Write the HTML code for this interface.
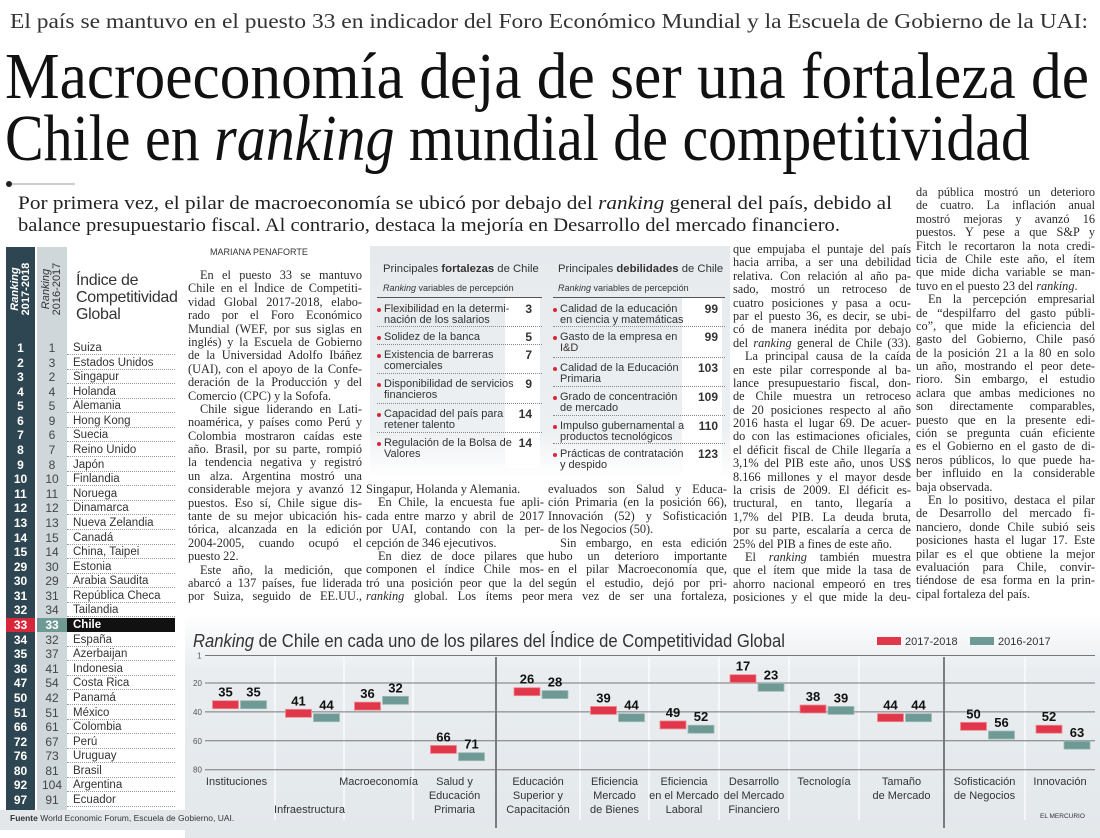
<!DOCTYPE html>
<html><head><meta charset="utf-8">
<style>
*{margin:0;padding:0;box-sizing:border-box}
body{width:1100px;height:838px;background:#fff;position:relative;overflow:hidden;font-family:"Liberation Serif",serif;color:#222}
.abs{position:absolute}
.col{position:absolute;font-family:"Liberation Serif",serif;font-size:12.3px;color:#2a2a2a}
.col div{height:13.4px;line-height:13.4px;white-space:nowrap;text-align:justify;text-align-last:justify;overflow:hidden}
.col div.e{text-align-last:left}
.col div.i{padding-left:12px}
.sans{font-family:"Liberation Sans",sans-serif}
.tb{position:absolute;font-family:"Liberation Sans",sans-serif;font-size:11px;color:#333;line-height:11px;white-space:nowrap}
</style></head><body>

<svg class="abs" style="left:0;top:0" width="1100" height="240">
<text x="10" y="28" font-family="Liberation Serif" font-size="21" fill="#333" textLength="1078" lengthAdjust="spacingAndGlyphs">El país se mantuvo en el puesto 33 en indicador del Foro Económico Mundial y la Escuela de Gobierno de la UAI:</text>
<text x="5" y="98" font-family="Liberation Serif" font-size="66" fill="#111" textLength="1084" lengthAdjust="spacingAndGlyphs">Macroeconomía deja de ser una fortaleza de</text>
<text x="5" y="160" font-family="Liberation Serif" font-size="66" fill="#111" textLength="1025" lengthAdjust="spacingAndGlyphs">Chile en <tspan font-style="italic">ranking</tspan> mundial de competitividad</text>
<circle cx="9" cy="184" r="3" fill="#222"/>
<line x1="12" y1="184" x2="75" y2="184" stroke="#999" stroke-width="1"/>
<text x="18" y="209" font-family="Liberation Serif" font-size="18.5" fill="#222" textLength="874" lengthAdjust="spacingAndGlyphs">Por primera vez, el pilar de macroeconomía se ubicó por debajo del <tspan font-style="italic">ranking</tspan> general del país, debido al</text>
<text x="18" y="231" font-family="Liberation Serif" font-size="18.5" fill="#222" textLength="822" lengthAdjust="spacingAndGlyphs">balance presupuestario fiscal. Al contrario, destaca la mejoría en Desarrollo del mercado financiero.</text>
</svg>

<div class="abs" style="left:185px;top:615px;width:915px;height:223px;background:linear-gradient(#fff,#e9edf0 25%,#e3e8eb)"></div>
<div class="abs" style="left:0;top:810px;width:190px;height:20px;background:#e3e7ea"></div>

<div id="rt" class="abs" style="left:0;top:0;width:185px;height:838px"></div>

<div class="abs sans" style="left:210px;top:247px;font-size:9px;color:#333">MARIANA PENAFORTE</div>

<div class="col" style="left:188px;top:269px;width:174px">
<div class="i">En el puesto 33 se mantuvo</div>
<div>Chile en el Índice de Competiti-</div>
<div>vidad Global 2017-2018, elabo-</div>
<div>rado por el Foro Económico</div>
<div>Mundial (WEF, por sus siglas en</div>
<div>inglés) y la Escuela de Gobierno</div>
<div>de la Universidad Adolfo Ibáñez</div>
<div>(UAI), con el apoyo de la Confe-</div>
<div>deración de la Producción y del</div>
<div class="e">Comercio (CPC) y la Sofofa.</div>
<div class="i">Chile sigue liderando en Lati-</div>
<div>noamérica, y países como Perú y</div>
<div>Colombia mostraron caídas este</div>
<div>año. Brasil, por su parte, rompió</div>
<div>la tendencia negativa y registró</div>
<div>un alza. Argentina mostró una</div>
<div>considerable mejora y avanzó 12</div>
<div>puestos. Eso sí, Chile sigue dis-</div>
<div>tante de su mejor ubicación his-</div>
<div>tórica, alcanzada en la edición</div>
<div>2004-2005, cuando ocupó el</div>
<div class="e">puesto 22.</div>
<div class="i">Este año, la medición, que</div>
<div>abarcó a 137 países, fue liderada</div>
<div>por Suiza, seguido de EE.UU.,</div>
</div>

<div class="col" style="left:366px;top:483px;width:178px">
<div class="e">Singapur, Holanda y Alemania.</div>
<div class="i">En Chile, la encuesta fue apli-</div>
<div>cada entre marzo y abril de 2017</div>
<div>por UAI, contando con la per-</div>
<div class="e">cepción de 346 ejecutivos.</div>
<div class="i">En diez de doce pilares que</div>
<div>componen el índice Chile mos-</div>
<div>tró una posición peor que la del</div>
<div><i>ranking</i> global. Los ítems peor</div>
</div>

<div class="col" style="left:548px;top:483px;width:179px">
<div>evaluados son Salud y Educa-</div>
<div>ción Primaria (en la posición 66),</div>
<div>Innovación (52) y Sofisticación</div>
<div class="e">de los Negocios (50).</div>
<div class="i">Sin embargo, en esta edición</div>
<div>hubo un deterioro importante</div>
<div>en el pilar Macroeconomía que,</div>
<div>según el estudio, dejó por pri-</div>
<div>mera vez de ser una fortaleza,</div>
</div>

<div class="col" style="left:733px;top:243px;width:178px">
<div>que empujaba el puntaje del país</div>
<div>hacia arriba, a ser una debilidad</div>
<div>relativa. Con relación al año pa-</div>
<div>sado, mostró un retroceso de</div>
<div>cuatro posiciones y pasa a ocu-</div>
<div>par el puesto 36, es decir, se ubi-</div>
<div>có de manera inédita por debajo</div>
<div>del <i>ranking</i> general de Chile (33).</div>
<div class="i">La principal causa de la caída</div>
<div>en este pilar corresponde al ba-</div>
<div>lance presupuestario fiscal, don-</div>
<div>de Chile muestra un retroceso</div>
<div>de 20 posiciones respecto al año</div>
<div>2016 hasta el lugar 69. De acuer-</div>
<div>do con las estimaciones oficiales,</div>
<div>el déficit fiscal de Chile llegaría a</div>
<div>3,1% del PIB este año, unos US$</div>
<div>8.166 millones y el mayor desde</div>
<div>la crisis de 2009. El déficit es-</div>
<div>tructural, en tanto, llegaría a</div>
<div>1,7% del PIB. La deuda bruta,</div>
<div>por su parte, escalaría a cerca de</div>
<div class="e">25% del PIB a fines de este año.</div>
<div class="i">El <i>ranking</i> también muestra</div>
<div>que el ítem que mide la tasa de</div>
<div>ahorro nacional empeoró en tres</div>
<div>posiciones y el que mide la deu-</div>
</div>

<div class="col" style="left:916px;top:186px;width:179px">
<div>da pública mostró un deterioro</div>
<div>de cuatro. La inflación anual</div>
<div>mostró mejoras y avanzó 16</div>
<div>puestos. Y pese a que S&amp;P y</div>
<div>Fitch le recortaron la nota credi-</div>
<div>ticia de Chile este año, el ítem</div>
<div>que mide dicha variable se man-</div>
<div class="e">tuvo en el puesto 23 del <i>ranking</i>.</div>
<div class="i">En la percepción empresarial</div>
<div>de “despilfarro del gasto públi-</div>
<div>co”, que mide la eficiencia del</div>
<div>gasto del Gobierno, Chile pasó</div>
<div>de la posición 21 a la 80 en solo</div>
<div>un año, mostrando el peor dete-</div>
<div>rioro. Sin embargo, el estudio</div>
<div>aclara que ambas mediciones no</div>
<div>son directamente comparables,</div>
<div>puesto que en la presente edi-</div>
<div>ción se pregunta cuán eficiente</div>
<div>es el Gobierno en el gasto de di-</div>
<div>neros públicos, lo que puede ha-</div>
<div>ber influido en la considerable</div>
<div class="e">baja observada.</div>
<div class="i">En lo positivo, destaca el pilar</div>
<div>de Desarrollo del mercado fi-</div>
<div>nanciero, donde Chile subió seis</div>
<div>posiciones hasta el lugar 17. Este</div>
<div>pilar es el que obtiene la mejor</div>
<div>evaluación para Chile, convir-</div>
<div>tiéndose de esa forma en la prin-</div>
<div class="e">cipal fortaleza del país.</div>
</div>

<div class="abs" style="left:370px;top:246px;width:360px;height:232px;background:linear-gradient(#e6eaed,#edf0f2 80%,#fff)"></div>
<div id="sw" class="abs" style="left:0;top:0;width:1100px"></div>

<svg id="chart" class="abs" style="left:0;top:0" width="1100" height="838"></svg>

<div class="abs sans" style="left:10px;top:813px;font-size:8.5px;color:#333;white-space:nowrap"><b>Fuente</b> World Economic Forum, Escuela de Gobierno, UAI.</div>
<div class="abs sans" style="left:1040px;top:813px;font-size:6.5px;color:#333">EL MERCURIO</div>

<script>
const rank2017=[1,2,3,4,5,6,7,8,9,10,11,12,13,14,15,29,30,31,32,33,34,35,36,47,50,51,66,72,76,80,92,97];
const rank2016=[1,3,2,4,5,9,6,7,8,10,11,12,13,15,14,30,29,31,34,33,32,37,41,54,42,51,61,67,73,81,104,91];
const countries=["Suiza","Estados Unidos","Singapur","Holanda","Alemania","Hong Kong","Suecia","Reino Unido","Japón","Finlandia","Noruega","Dinamarca","Nueva Zelandia","Canadá","China, Taipei","Estonia","Arabia Saudita","República Checa","Tailandia","Chile","España","Azerbaijan","Indonesia","Costa Rica","Panamá","México","Colombia","Perú","Uruguay","Brasil","Argentina","Ecuador"];
(function(){
  const rt=document.getElementById('rt');
  let h='';
  h+='<div style="position:absolute;left:6px;top:247px;width:29px;height:563px;background:#2e4651"></div>';
  h+='<div style="position:absolute;left:37px;top:247px;width:30px;height:563px;background:#cfd7db"></div>';
  h+='<div style="position:absolute;left:-23px;top:278px;width:88px;transform:rotate(-90deg);font:bold 11px/11px \'Liberation Sans\',sans-serif;color:#fff;text-align:center"><i>Ranking</i><br>2017-2018</div>';
  h+='<div style="position:absolute;left:8px;top:278px;width:88px;transform:rotate(-90deg);font:11px/11px \'Liberation Sans\',sans-serif;color:#333;text-align:center"><i>Ranking</i><br>2016-2017</div>';
  h+='<div style="position:absolute;left:76px;top:272px;font:16px/17px \'Liberation Sans\',sans-serif;color:#333;letter-spacing:-0.3px;white-space:nowrap">Índice de<br>Competitividad<br>Global</div>';
  rank2017.forEach((r,i)=>{
    const y=341+i*14.58; const chile=countries[i]==='Chile';
    h+='<div style="position:absolute;left:0;top:'+y+'px;width:180px;height:14.58px">'+
      '<div style="position:absolute;left:6px;width:29px;height:14px;'+(chile?'background:#d8273a;':'')+'text-align:center;font:bold 12px/14px \'Liberation Sans\',sans-serif;color:#fff">'+r+'</div>'+
      '<div style="position:absolute;left:37px;width:30px;height:14px;'+(chile?'background:#6e9995;color:#fff;font-weight:bold;':'color:#444;')+'text-align:center;font-size:12px;line-height:14px;font-family:\'Liberation Sans\',sans-serif">'+rank2016[i]+'</div>'+
      '<div style="position:absolute;left:67px;width:108px;height:14px;'+(chile?'background:#111;color:#fff;font-weight:bold;':'color:#333;border-bottom:1px dotted #999;')+'padding-left:6px;font-size:11.5px;line-height:14px;font-family:\'Liberation Sans\',sans-serif;white-space:nowrap">'+countries[i]+'</div></div>';
  });
  rt.innerHTML=h;
})();

const strengths=[["Flexibilidad en la determi-","nación de los salarios"],["Solidez de la banca"],["Existencia de barreras","comerciales"],["Disponibilidad de servicios","financieros"],["Capacidad del país para","retener talento"],["Regulación de la Bolsa de","Valores"]];
const strengthVals=[3,5,7,9,14,14];
const weaknesses=[["Calidad de la educación","en ciencia y matemáticas"],["Gasto de la empresa en","I&D"],["Calidad de la Educación","Primaria"],["Grado de concentración","de mercado"],["Impulso gubernamental a","productos tecnológicos"],["Prácticas de contratación","y despido"]];
const weaknessVals=[99,99,103,109,110,123];
(function(){
  const sw=document.getElementById('sw');
  let h='';
  h+='<div class="tb" style="left:383px;top:263px;font-size:11.3px;line-height:12px">Principales <b>fortalezas</b> de Chile</div>';
  h+='<div class="tb" style="left:558px;top:263px;font-size:11.3px;line-height:12px">Principales <b>debilidades</b> de Chile</div>';
  h+='<div class="tb" style="left:383px;top:283px;font-size:9px"><i>Ranking</i> variables de percepción</div>';
  h+='<div class="tb" style="left:558px;top:283px;font-size:9px"><i>Ranking</i> variables de percepción</div>';
  h+='<div style="position:absolute;left:377px;top:297px;width:165px;border-top:1px solid #555"></div>';
  h+='<div style="position:absolute;left:553px;top:297px;width:172px;border-top:1px solid #555"></div>';
  h+='<div style="position:absolute;left:505px;top:298px;width:35px;height:170px;background:#fff"></div>';
  h+='<div style="position:absolute;left:682px;top:298px;width:40px;height:176px;background:#fff"></div>';
  function list(items,vals,x0,numR,w,tops){
    items.forEach((it,i)=>{
      const t=tops[i];
      h+='<div style="position:absolute;left:'+x0+'px;top:'+t+'px;width:'+w+'px">'+
        '<div style="position:absolute;left:0;top:4px;width:4px;height:4px;border-radius:2px;background:#d8273a"></div>'+
        '<div class="tb" style="left:7px;top:0">'+it.join('<br>')+'</div>'+
        '<div class="tb" style="left:'+(numR-40)+'px;width:40px;text-align:right;font-weight:bold;font-size:12px">'+vals[i]+'</div></div>';
      if(i<items.length-1){
        const ly=tops[i+1]-6;
        h+='<div style="position:absolute;left:'+x0+'px;top:'+ly+'px;width:'+w+'px;border-top:1px dotted #888"></div>';
      }
    });
  }
  list(strengths,strengthVals,377,155,165,[304,332,350,379,409,438]);
  list(weaknesses,weaknessVals,553,165,172,[304,332,363,392,421,449]);
  sw.innerHTML=h;
})();

const pillars=[["Instituciones"],["","","Infraestructura"],["Macroeconomía"],["Salud y","Educación","Primaria"],["Educación","Superior y","Capacitación"],["Eficiencia","Mercado","de Bienes"],["Eficiencia","en el Mercado","Laboral"],["Desarrollo","del Mercado","Financiero"],["Tecnología"],["Tamaño","de Mercado"],["Sofisticación","de Negocios"],["Innovación"]];
const rank1718=[35,41,36,66,26,39,49,17,38,44,50,52];
const rank1617=[35,44,32,71,28,44,52,23,39,44,56,63];
const yTicks=[1,20,40,60,80];
const colBounds=[198,275,344,413,496,580,649,719,789,859,944,1025,1095];
(function(){
  const svg=document.getElementById('chart');
  const NS='http://www.w3.org/2000/svg';
  const yScale=v=>683+(v-20)*1.445;
  function el(tag,attrs,txt){const e=document.createElementNS(NS,tag);for(const k in attrs)e.setAttribute(k,attrs[k]);if(txt!==undefined)e.textContent=txt;svg.appendChild(e);return e;}
  let t=el('text',{x:193,y:647,'font-family':'Liberation Sans','font-size':18,fill:'#333',textLength:592,lengthAdjust:'spacingAndGlyphs'});
  t.innerHTML='<tspan font-style="italic">Ranking</tspan> de Chile en cada uno de los pilares del Índice de Competitividad Global';
  
  
  let r=el('rect',{x:877,y:637,width:24,height:8,fill:'#e0384a'});
  
  
  t=el('text',{x:905,y:645,'font-family':'Liberation Sans','font-size':11,fill:'#333'},'2017-2018');
  
  
  r=el('rect',{x:970,y:637,width:24,height:8,fill:'#6e9995'});
  
  
  t=el('text',{x:998,y:645,'font-family':'Liberation Sans','font-size':11,fill:'#333'},'2016-2017');
  
  
  for(let i=1;i<colBounds.length-1;i++){
    if(i===4||i===10){
      const l=el('line',{x1:colBounds[i],x2:colBounds[i],y1:657,y2:828,stroke:'#333','stroke-width':1.2});
      
      
    } else {
      const l=el('line',{x1:colBounds[i],x2:colBounds[i],y1:657,y2:820,stroke:'#fff','stroke-width':1.2});
      
      
    }
  }
  yTicks.forEach(v=>{
    const y=yScale(v);
    const g=el('line',{x1:205,x2:1095,y1:y,y2:y,stroke:'#777','stroke-width':1});
    
    
    const tl=el('text',{x:v===1?197:193,y:y+3,'font-family':'Liberation Sans','font-size':8,fill:'#555'},String(v));
    
    
  });
  pillars.forEach((p,i)=>{
    const cx=(colBounds[i]+colBounds[i+1])/2;
    const a=rank1718[i], b=rank1617[i];
    const ya=yScale(a), yb=yScale(b);
    const ra=el('rect',{x:cx-24,y:ya-4,width:26,height:8,fill:'#e0384a',stroke:'#f28a94','stroke-width':0.8});
    
    
    const rb=el('rect',{x:cx+4,y:yb-4,width:26,height:8,fill:'#6e9995',stroke:'#9bbcb9','stroke-width':0.8});
    
    
    const la=el('text',{x:cx-11,y:ya-8,'text-anchor':'middle','font-family':'Liberation Sans','font-size':13,'font-weight':'bold',fill:'#111'},String(a));
    
    
    const lb=el('text',{x:cx+17,y:yb-8,'text-anchor':'middle','font-family':'Liberation Sans','font-size':13,'font-weight':'bold',fill:'#111'},String(b));
    
    
    p.forEach((ln,j)=>{
      if(!ln) return;
      const ct=el('text',{x:cx,y:785+j*14,'text-anchor':'middle','font-family':'Liberation Sans','font-size':11,fill:'#333'},ln);
      
      
    });
  });
})();
</script>
</body></html>
